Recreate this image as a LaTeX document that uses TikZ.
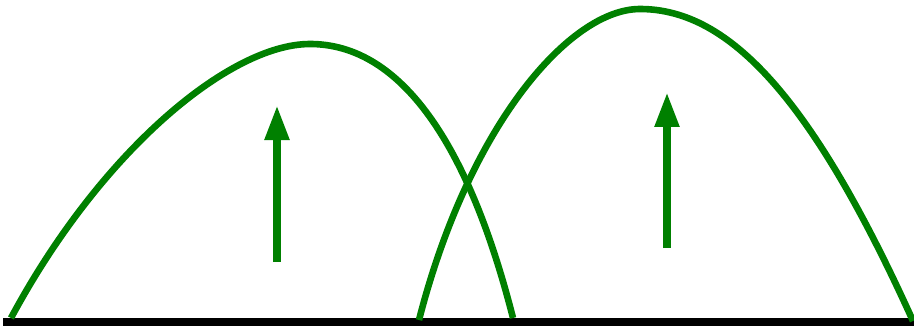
\documentclass[tikz,border=0pt]{standalone}
\usetikzlibrary{arrows.meta}
\definecolor{arcgreen}{RGB}{0,128,0}
\tikzset{
  arcline/.style={draw=arcgreen, line width=6.6pt},
  uparrow/.style={draw=arcgreen, line width=8pt, -{Triangle[length=35pt,width=23pt]}},
  baseline/.style={draw=black, line width=7.5pt}
}
\begin{document}
\begin{tikzpicture}[x=1pt,y=-1pt]
\useasboundingbox (0,0) rectangle (914,329);
% ground line
\coordinate (gl) at (3,322);
\coordinate (gr) at (914,322);
\draw[baseline] (gl) -- (gr);
% left arc
\coordinate (a1) at (11,318);
\coordinate (p1) at (310,44);
\coordinate (b1) at (513,318);
\draw[arcline] (a1) .. controls (101,150.5) and (230,44) .. (p1)
               .. controls (390,44) and (463,122) .. (b1);
% right arc
\coordinate (a2) at (419,320);
\coordinate (p2) at (640,9);
\coordinate (b2) at (913,321);
\draw[arcline] (a2) .. controls (469,125) and (570,9) .. (p2)
               .. controls (730,9) and (813,100) .. (b2);
% arrows
\coordinate (s1) at (277,262);
\coordinate (t1) at (277,105);
\coordinate (s2) at (667,248);
\coordinate (t2) at (667,92);
\draw[uparrow] (s1) -- (t1);
\draw[uparrow] (s2) -- (t2);
\end{tikzpicture}
\end{document}
